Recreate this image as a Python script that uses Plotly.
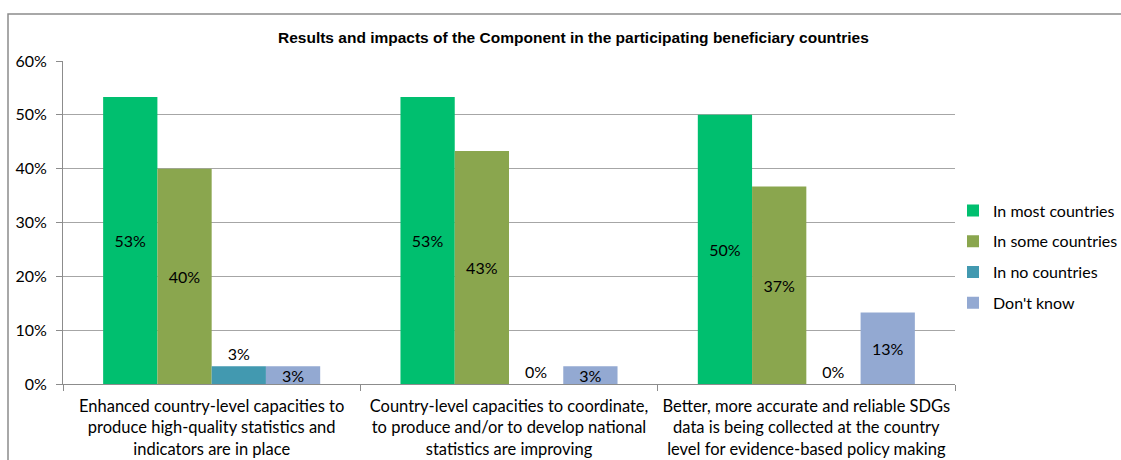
import plotly.graph_objects as go

categories = [
    "Enhanced country-level capacities to<br>produce high-quality statistics and<br>indicators are in place",
    "Country-level capacities to coordinate,<br>to produce and/or to develop national<br>statistics are improving",
    "Better, more accurate and reliable SDGs<br>data is being collected at the country<br>level for evidence-based policy making",
]
series_names = ["In most countries", "In some countries", "In no countries", "Don't know"]
in_most = [53.3, 53.3, 50.0]
in_some = [40.0, 43.3, 36.7]
in_none = [3.3, 0.0, 0.0]
dont_know = [3.3, 3.3, 13.3]
y_ticks = [0, 10, 20, 30, 40, 50, 60]

colors = ["#00BF6F", "#8AA64E", "#4299B0", "#93A9D2"]
text_pos = ["inside", "inside", "outside", "inside"]

W, H = 1121, 460
L, R, T, B = 63, 166, 61, 76
pw, ph = W - L - R, H - T - B

body_font = "Lato, Carlito, Calibri, sans-serif"

fig = go.Figure()
for name, vals, col, pos in zip(series_names, [in_most, in_some, in_none, dont_know], colors, text_pos):
    fig.add_trace(go.Bar(
        name=name,
        x=categories,
        y=vals,
        marker=dict(color=col, line=dict(width=0)),
        text=[f"{round(v):d}%" for v in vals],
        textposition=pos,
        insidetextanchor="middle",
        textangle=0,
        cliponaxis=False,
        textfont=dict(family=body_font, size=16, color="#000000"),
        legendgroup=name,
    ))

fig.update_layout(
    width=W, height=H,
    margin=dict(l=L, r=R, t=T, b=B, pad=0, autoexpand=False),
    paper_bgcolor="white",
    plot_bgcolor="white",
    barmode="group",
    bargap=0.27,
    bargroupgap=0,
    uniformtext=dict(minsize=16, mode="show"),
    font=dict(family=body_font, size=16, color="#000000"),
    showlegend=True,
    legend=dict(
        x=(953 - L) / pw, xanchor="left",
        y=(T + ph - 257) / ph, yanchor="middle",
        font=dict(family=body_font, size=16, color="#000000"),
        tracegroupgap=7,
        itemwidth=30,
        bgcolor="rgba(0,0,0,0)",
    ),
    xaxis=dict(
        type="category",
        showgrid=False,
        showline=True, linecolor="#8C8C8C", linewidth=1,
        ticks="outside", tickson="boundaries", ticklen=6, tickcolor="#8C8C8C",
        tickfont=dict(family=body_font, size=16.5, color="#000000"),
        ticklabelstandoff=7,
    ),
    yaxis=dict(
        range=[0, 60],
        tickvals=y_ticks,
        ticktext=[f"{v}%" for v in y_ticks],
        showgrid=True, gridcolor="#A6A6A6", gridwidth=1,
        showline=True, linecolor="#8C8C8C", linewidth=1,
        ticks="outside", ticklen=6, tickcolor="#8C8C8C",
        tickfont=dict(family=body_font, size=16, color="#000000"),
        ticklabelstandoff=6,
        zeroline=False,
    ),
)

# outer chart frame
fig.add_shape(
    type="rect", xref="paper", yref="paper",
    x0=(8 - L) / pw, x1=(W + 10 - L) / pw,
    y0=-(H + 10 - (T + ph)) / ph, y1=(T + ph - 14) / ph,
    line=dict(color="#8C8C8C", width=1.5), fillcolor="rgba(0,0,0,0)", layer="below",
)

fig.add_annotation(
    text="<b>Results and impacts of the Component in the participating beneficiary countries</b>",
    xref="paper", yref="paper",
    x=(573 - L) / pw, y=(T + ph - 37) / ph,
    xanchor="center", yanchor="middle", showarrow=False,
    font=dict(family="Liberation Sans, Arial, sans-serif", size=15.5, color="#000000"),
)

fig.write_html("out.html")
